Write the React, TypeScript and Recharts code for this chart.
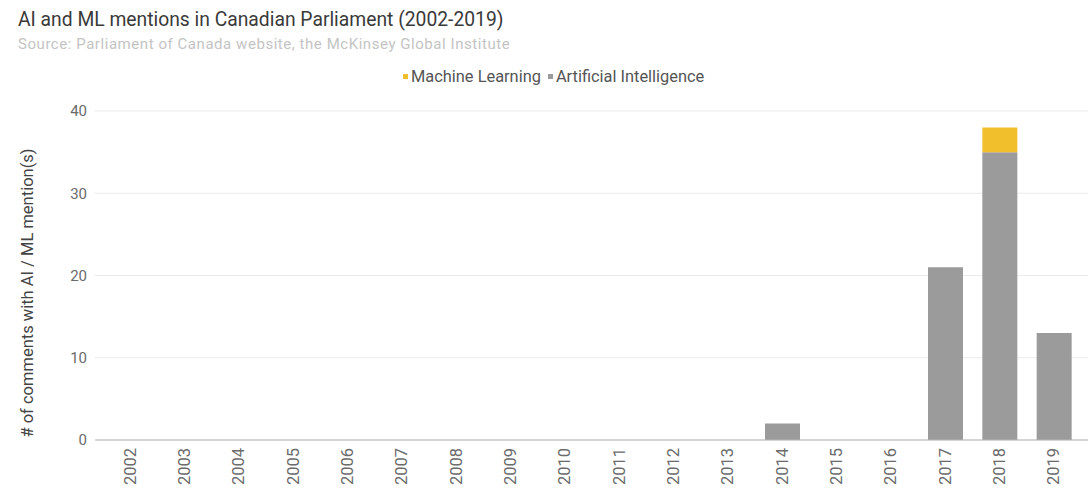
import React from 'react';
import { BarChart, Bar, XAxis, YAxis, CartesianGrid } from 'recharts';

// Values
const years = [
  '2002', '2003', '2004', '2005', '2006', '2007', '2008', '2009', '2010',
  '2011', '2012', '2013', '2014', '2015', '2016', '2017', '2018', '2019',
];
const artificialIntelligence = [0, 0, 0, 0, 0, 0, 0, 0, 0, 0, 0, 0, 2, 0, 0, 21, 35, 13];
const machineLearning = [0, 0, 0, 0, 0, 0, 0, 0, 0, 0, 0, 0, 0, 0, 0, 0, 3, 0];
const yTicks = [0, 10, 20, 30, 40];

const AI_COLOR = '#9b9b9b';
const ML_COLOR = '#f2bf2c';
const FONT = 'Roboto, "Noto Sans", sans-serif';

const chartData = years.map((year, i) => ({
  year,
  ai: artificialIntelligence[i],
  ml: machineLearning[i],
}));

const YearTick = (props: any) => {
  const { x, y, payload } = props;
  return (
    <text
      x={x}
      y={y}
      transform={`rotate(-90 ${x} ${y})`}
      textAnchor="end"
      dominantBaseline="central"
      fontSize={16.5}
      fill="#6b6b6b"
      fontFamily={FONT}
    >
      {payload.value}
    </text>
  );
};

// legend drawn as plain html above the plot
const LegendBox = () => {
  const items = [
    { label: 'Machine Learning', color: ML_COLOR },
    { label: 'Artificial Intelligence', color: AI_COLOR },
  ];
  return (
    <div
      style={{
        position: 'absolute', left: 403, top: 67, display: 'flex',
        fontFamily: FONT, fontSize: 16.4, color: '#555', whiteSpace: 'nowrap',
      }}
    >
      {items.map((it) => (
        <span key={it.label} style={{ display: 'flex', alignItems: 'center', marginRight: 7 }}>
          <span style={{ width: 5, height: 5, background: it.color, display: 'inline-block', marginRight: 3 }} />
          {it.label}
        </span>
      ))}
    </div>
  );
};

const YLabel = () => {
  const cx = 27;
  const cy = 293;
  return (
    <text
      x={cx}
      y={cy}
      transform={`rotate(-90 ${cx} ${cy})`}
      textAnchor="middle"
      dominantBaseline="central"
      fontSize={16.5}
      fill="#444"
      fontFamily={FONT}
    >
      # of comments with AI / ML mention(s)
    </text>
  );
};

export default function App() {
  return (
    <div style={{ position: 'absolute', left: 0, top: 0, width: 1088, height: 491, background: '#fff', fontFamily: FONT }}>
      <BarChart
        width={1088}
        height={491}
        data={chartData}
        margin={{ top: 111, right: 0, bottom: 0, left: 0 }}
        style={{ position: 'absolute', left: 0, top: 0 }}
      >
        <CartesianGrid vertical={false} stroke="#ebebeb" />
        <XAxis
          dataKey="year"
          interval={0}
          tick={<YearTick />}
          tickLine={false}
          axisLine={{ stroke: '#b5b5b5' }}
          tickSize={0}
          tickMargin={8}
          padding={{ left: 8, right: 7 }}
          height={51}
        />
        <YAxis
          width={95}
          domain={[0, 40]}
          ticks={yTicks}
          axisLine={false}
          tickLine={false}
          tick={{ fontSize: 15, fill: '#6b6b6b', fontFamily: FONT }}
          label={<YLabel />}
        />
        <Bar dataKey="ai" name="Artificial Intelligence" stackId="a" fill={AI_COLOR} barSize={35} isAnimationActive={false} />
        <Bar dataKey="ml" name="Machine Learning" stackId="a" fill={ML_COLOR} barSize={35} isAnimationActive={false} />
      </BarChart>
      <div style={{ position: 'absolute', left: 18, top: 8, fontSize: 19.3, color: '#3a3a3a', whiteSpace: 'nowrap' }}>
        AI and ML mentions in Canadian Parliament (2002-2019)
      </div>
      <div style={{ position: 'absolute', left: 18, top: 35, fontSize: 15, letterSpacing: 0.55, color: '#c4c4c4', whiteSpace: 'nowrap' }}>
        Source: Parliament of Canada website, the McKinsey Global Institute
      </div>
      <LegendBox />
    </div>
  );
}
